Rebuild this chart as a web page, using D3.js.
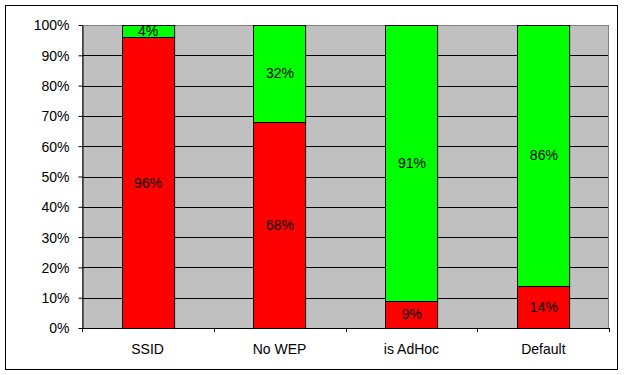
<!DOCTYPE html>
<html>
<head>
<meta charset="utf-8">
<script src="https://cdn.jsdelivr.net/npm/d3@7"></script>
<style>
  body { margin: 0; background: #fff; }
  svg text { font-family: "Liberation Sans", Arial, sans-serif; font-size: 14px; fill: #000; }
</style>
</head>
<body>
<div id="chart"></div>
<script>
// data
var categories = ["SSID", "No WEP", "is AdHoc", "Default"];
var redValues = [96, 68, 9, 14];
var greenValues = [4, 32, 91, 86];
var yTicks = [0, 10, 20, 30, 40, 50, 60, 70, 80, 90, 100];

var width = 624, height = 375;
var plot = { left: 82, top: 25, right: 609, bottom: 328 };

var svg = d3.select("#chart").append("svg")
  .attr("width", width).attr("height", height);

// outer frame
svg.append("rect")
  .attr("x", 5.5).attr("y", 5.5)
  .attr("width", 612).attr("height", 364)
  .attr("fill", "#fff").attr("stroke", "#000").attr("stroke-width", 1);

var x = d3.scaleBand().domain(categories)
  .range([plot.left, plot.right]).paddingInner(0.605).paddingOuter(0.3);
var y = d3.scaleLinear().domain([0, 100]).range([plot.bottom, plot.top]);

// plot background
svg.append("rect")
  .attr("x", plot.left).attr("y", plot.top)
  .attr("width", plot.right - plot.left).attr("height", plot.bottom - plot.top)
  .attr("fill", "#c0c0c0");

// gridlines
svg.append("g").selectAll("line")
  .data(yTicks.filter(d => d > 0 && d < 100))
  .enter().append("line")
  .attr("x1", plot.left).attr("x2", plot.right)
  .attr("y1", d => Math.round(y(d)) + 0.5).attr("y2", d => Math.round(y(d)) + 0.5)
  .attr("stroke", "#000");

// plot border (grey)
svg.append("rect")
  .attr("x", plot.left + 0.5).attr("y", plot.top + 0.5)
  .attr("width", plot.right - plot.left - 1).attr("height", plot.bottom - plot.top)
  .attr("fill", "none").attr("stroke", "#808080");

// stacked data
var rows = categories.map((c, i) => ({ cat: c, red: redValues[i], green: greenValues[i] }));
var stack = d3.stack().keys(["red", "green"])(rows);
var colors = { red: "#ff0000", green: "#00ff00" };

var layers = svg.append("g").selectAll("g")
  .data(stack).enter().append("g")
  .attr("fill", d => colors[d.key]);

layers.selectAll("rect")
  .data(d => d).enter().append("rect")
  .attr("x", d => Math.round(x(d.data.cat)) + 0.5)
  .attr("y", d => Math.round(y(d[1])) + 0.5)
  .attr("width", x.bandwidth())
  .attr("height", d => Math.round(y(d[0])) - Math.round(y(d[1])))
  .attr("stroke", "#000");

// segment labels
layers.selectAll("text")
  .data(d => d).enter().append("text")
  .attr("x", d => x(d.data.cat) + x.bandwidth() / 2 + 0.5)
  .attr("y", d => (y(d[0]) + y(d[1])) / 2)
  .attr("text-anchor", "middle")
  .attr("dominant-baseline", "central")
  .text(d => (d[1] - d[0]) + "%");

// y axis
var yAxis = d3.axisLeft(y).tickValues(yTicks).tickSize(4).tickSizeOuter(0)
  .tickFormat(d => d + "%");
var gy = svg.append("g").attr("transform", "translate(" + (plot.left + 0.5) + ",0)").call(yAxis);
gy.attr("font-size", null).attr("font-family", null);
gy.select(".domain").attr("stroke", "#000");
gy.selectAll(".tick line").attr("stroke", "#000");
gy.selectAll(".tick text").attr("x", -13).attr("dy", "0.35em").attr("fill", "#000");

// x axis with ticks at category boundaries
svg.append("line")
  .attr("x1", plot.left).attr("x2", plot.right)
  .attr("y1", plot.bottom + 0.5).attr("y2", plot.bottom + 0.5)
  .attr("stroke", "#000");
var step = (plot.right - plot.left) / categories.length;
svg.append("g").selectAll("line")
  .data(d3.range(categories.length + 1))
  .enter().append("line")
  .attr("x1", i => Math.round(plot.left + i * step) + 0.5)
  .attr("x2", i => Math.round(plot.left + i * step) + 0.5)
  .attr("y1", plot.bottom).attr("y2", plot.bottom + 4)
  .attr("stroke", "#000");
svg.append("g").selectAll("text")
  .data(categories).enter().append("text")
  .attr("x", d => x(d) + x.bandwidth() / 2)
  .attr("y", 349)
  .attr("text-anchor", "middle")
  .attr("dominant-baseline", "central")
  .text(d => d);
</script>
</body>
</html>
